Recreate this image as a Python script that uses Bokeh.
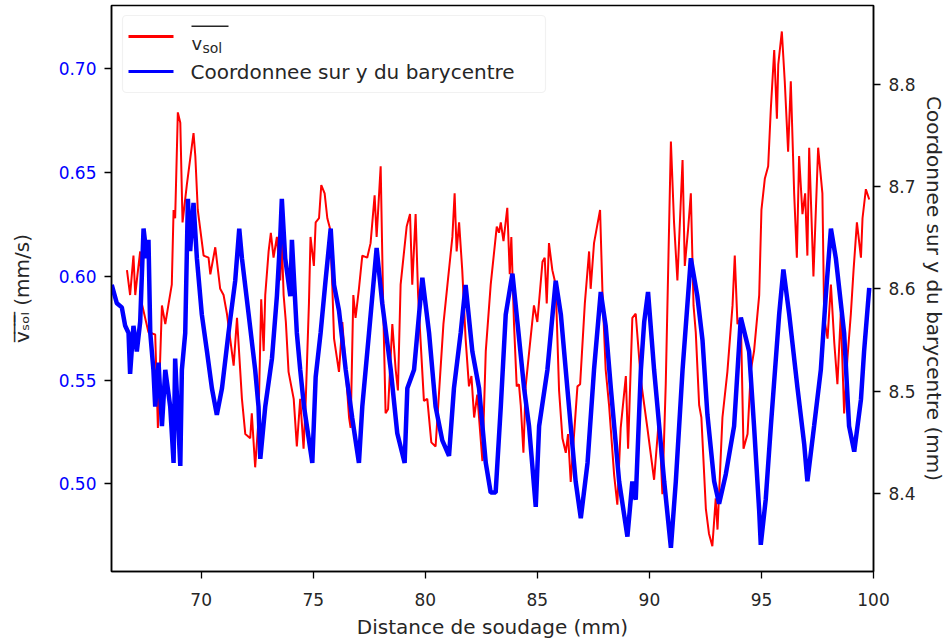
from bokeh.plotting import figure
from bokeh.models import Range1d, LinearAxis, FixedTicker, Label, BoxAnnotation
from bokeh.embed import file_html
from bokeh.resources import INLINE

# ---------------- data ----------------
red_x = [66.69, 66.83, 66.98, 67.06, 67.16, 67.28, 67.35, 67.65, 67.95, 68.07, 68.25, 68.40, 68.55, 68.69,
         68.77, 68.84, 68.96, 69.07, 69.17, 69.36, 69.66, 69.74, 69.85, 70.11, 70.33, 70.41, 70.63, 70.85,
         71.00, 71.15, 71.45, 71.60, 71.82, 71.97, 72.19, 72.26, 72.41, 72.56, 72.68, 72.79, 72.86, 73.01,
         73.11, 73.23, 73.38, 73.53, 73.60, 73.68, 73.78, 73.90, 74.13, 74.27, 74.42, 74.57, 74.66, 74.81,
         74.88, 75.03, 75.11, 75.26, 75.36, 75.51, 75.63, 75.75, 75.85, 75.93, 76.15, 76.30, 76.45, 76.60,
         76.67, 76.79, 76.89, 77.04, 77.19, 77.41, 77.56, 77.74, 77.83, 78.01, 78.13, 78.23, 78.34, 78.53,
         78.68, 78.78, 78.90, 79.17, 79.32, 79.42, 79.57, 79.68, 79.77, 79.94, 80.09, 80.27, 80.46, 80.81,
         80.99, 81.21, 81.31, 81.40, 81.51, 81.65, 81.80, 81.95, 82.06, 82.18, 82.32, 82.55, 82.70, 82.92,
         83.19, 83.29, 83.37, 83.49, 83.66, 83.77, 83.84, 83.96, 84.08, 84.18, 84.26, 84.38, 84.48, 84.63,
         84.85, 85.00, 85.23, 85.33, 85.42, 85.52, 85.67, 85.82, 85.97, 86.12, 86.27, 86.37, 86.49, 86.79,
         86.91, 87.12, 87.31, 87.38, 87.53, 87.80, 87.91, 88.05, 88.20, 88.43, 88.57, 88.72, 88.95, 89.05,
         89.24, 89.39, 89.62, 89.91, 90.21, 90.43, 90.58, 90.73, 90.96, 91.10, 91.25, 91.48, 91.58, 91.73,
         91.85, 91.97, 92.07, 92.22, 92.32, 92.52, 92.66, 92.81, 92.96, 93.04, 93.26, 93.48, 93.71, 93.81,
         93.93, 94.08, 94.20, 94.38, 94.53, 94.67, 94.90, 95.00, 95.15, 95.30, 95.42, 95.57, 95.69, 95.75,
         95.91, 96.04, 96.19, 96.31, 96.46, 96.58, 96.68, 96.83, 96.95, 97.05, 97.13, 97.32, 97.53, 97.72,
         97.80, 97.95, 98.10, 98.25, 98.39, 98.54, 98.69, 98.84, 98.99, 99.11, 99.26, 99.44, 99.51, 99.66,
         99.81]
red_v = [0.603, 0.591, 0.610, 0.591, 0.601, 0.612, 0.587, 0.573, 0.572, 0.527, 0.586, 0.577, 0.587, 0.596,
         0.632, 0.628, 0.679, 0.674, 0.626, 0.644, 0.669, 0.658, 0.632, 0.610, 0.609, 0.601, 0.614, 0.594,
         0.591, 0.582, 0.557, 0.580, 0.541, 0.524, 0.522, 0.534, 0.508, 0.531, 0.589, 0.564, 0.591, 0.612,
         0.621, 0.609, 0.619, 0.598, 0.617, 0.591, 0.578, 0.554, 0.541, 0.518, 0.541, 0.517, 0.538, 0.587,
         0.619, 0.605, 0.626, 0.628, 0.644, 0.640, 0.628, 0.623, 0.596, 0.570, 0.554, 0.578, 0.555, 0.532,
         0.527, 0.591, 0.580, 0.594, 0.610, 0.609, 0.616, 0.639, 0.619, 0.653, 0.582, 0.534, 0.536, 0.577,
         0.555, 0.545, 0.596, 0.624, 0.630, 0.596, 0.630, 0.591, 0.573, 0.540, 0.541, 0.520, 0.518, 0.577,
         0.596, 0.619, 0.640, 0.612, 0.626, 0.603, 0.570, 0.547, 0.552, 0.532, 0.543, 0.511, 0.564, 0.596,
         0.624, 0.621, 0.626, 0.617, 0.633, 0.601, 0.619, 0.577, 0.547, 0.548, 0.538, 0.515, 0.547, 0.563,
         0.586, 0.578, 0.607, 0.609, 0.587, 0.616, 0.603, 0.596, 0.545, 0.522, 0.515, 0.524, 0.501, 0.547,
         0.548, 0.587, 0.612, 0.594, 0.616, 0.632, 0.591, 0.555, 0.538, 0.504, 0.490, 0.527, 0.552, 0.517,
         0.580, 0.582, 0.550, 0.527, 0.502, 0.532, 0.495, 0.548, 0.665, 0.626, 0.598, 0.656, 0.605, 0.623,
         0.640, 0.586, 0.573, 0.538, 0.532, 0.488, 0.476, 0.470, 0.493, 0.478, 0.532, 0.554, 0.586, 0.610,
         0.577, 0.580, 0.517, 0.524, 0.555, 0.564, 0.591, 0.632, 0.647, 0.653, 0.681, 0.709, 0.676, 0.702,
         0.718, 0.694, 0.660, 0.694, 0.640, 0.609, 0.658, 0.630, 0.640, 0.610, 0.662, 0.600, 0.662, 0.640,
         0.580, 0.570, 0.596, 0.568, 0.548, 0.582, 0.534, 0.561, 0.582, 0.603, 0.626, 0.609, 0.628, 0.642,
         0.637]

blue_x = [66.01, 66.24, 66.46, 66.61, 66.76, 66.83, 66.98, 67.13, 67.28, 67.43, 67.58, 67.65, 67.73, 67.87,
          67.95, 68.10, 68.25, 68.40, 68.62, 68.77, 68.84, 69.07, 69.14, 69.29, 69.41, 69.51, 69.66, 69.81,
          70.03, 70.26, 70.48, 70.70, 70.93, 71.22, 71.52, 71.70, 71.82, 72.12, 72.41, 72.56, 72.64, 72.86,
          73.16, 73.38, 73.53, 73.60, 73.75, 73.98, 74.05, 74.27, 74.42, 74.59, 74.96, 75.11, 75.33, 75.55,
          75.78, 75.93, 76.15, 76.45, 76.74, 77.04, 77.19, 77.49, 77.83, 78.08, 78.46, 78.75, 79.08, 79.20,
          79.50, 79.87, 80.17, 80.46, 80.76, 81.06, 81.28, 81.58, 81.80, 82.10, 82.40, 82.70, 82.92, 83.14,
          83.37, 83.59, 83.89, 84.11, 84.41, 84.63, 84.93, 85.08, 85.45, 85.82, 86.05, 86.34, 86.71, 86.94,
          87.24, 87.53, 87.83, 88.05, 88.28, 88.65, 89.02, 89.24, 89.39, 89.62, 89.77, 89.94, 90.21, 90.36,
          90.66, 90.96, 91.18, 91.48, 91.85, 92.14, 92.37, 92.59, 92.89, 93.11, 93.41, 93.78, 94.08, 94.45,
          94.67, 94.90, 94.97, 95.19, 95.42, 95.79, 95.98, 96.24, 96.61, 96.91, 97.05, 97.35, 97.65, 97.87,
          98.10, 98.32, 98.69, 98.91, 99.14, 99.44, 99.58, 99.81]
blue_y = [8.604, 8.586, 8.582, 8.564, 8.557, 8.517, 8.564, 8.539, 8.568, 8.659, 8.630, 8.648, 8.557, 8.521,
          8.485, 8.528, 8.466, 8.521, 8.485, 8.430, 8.532, 8.427, 8.521, 8.557, 8.688, 8.637, 8.684, 8.630,
          8.575, 8.539, 8.503, 8.477, 8.503, 8.557, 8.608, 8.659, 8.630, 8.575, 8.521, 8.485, 8.434, 8.485,
          8.532, 8.593, 8.651, 8.688, 8.630, 8.593, 8.648, 8.557, 8.521, 8.485, 8.430, 8.514, 8.557, 8.608,
          8.659, 8.604, 8.579, 8.521, 8.474, 8.430, 8.485, 8.557, 8.640, 8.586, 8.521, 8.459, 8.430, 8.503,
          8.521, 8.611, 8.557, 8.485, 8.452, 8.437, 8.503, 8.557, 8.604, 8.539, 8.503, 8.430, 8.401, 8.401,
          8.485, 8.575, 8.615, 8.568, 8.503, 8.466, 8.387, 8.466, 8.521, 8.608, 8.575, 8.503, 8.412, 8.376,
          8.430, 8.521, 8.597, 8.564, 8.503, 8.412, 8.358, 8.412, 8.394, 8.521, 8.568, 8.597, 8.521, 8.485,
          8.412, 8.347, 8.412, 8.521, 8.630, 8.593, 8.550, 8.477, 8.412, 8.390, 8.419, 8.466, 8.572, 8.539,
          8.466, 8.383, 8.350, 8.394, 8.466, 8.575, 8.619, 8.575, 8.503, 8.448, 8.412, 8.466, 8.521, 8.593,
          8.659, 8.630, 8.557, 8.466, 8.441, 8.492, 8.539, 8.601]

x_ticks = [70, 75, 80, 85, 90, 95, 100]
left_ticks = [0.50, 0.55, 0.60, 0.65, 0.70]
left_tick_labels = ["0.50", "0.55", "0.60", "0.65", "0.70"]
right_ticks = [8.4, 8.5, 8.6, 8.7, 8.8]
right_tick_labels = ["8.4", "8.5", "8.6", "8.7", "8.8"]
x_label = "Distance de soudage (mm)"
right_label = "Coordonnee sur y du barycentre (mm)"
left_label = "v\u0305\u209b\u0305\u2092\u0305\u2097\u0305 (mm/s)"
red_name = ("v", "sol")
blue_name = "Coordonnee sur y du barycentre"

# ---------------- figure ----------------
FONT = "DejaVu Sans"
TXT = "#262626"
W, H = 950, 641
BL, BT = 111, 5
BR = W - 873
BB = H - 573
FH = H - BT - BB

p = figure(width=W, height=H, x_range=Range1d(66, 100), y_range=Range1d(0.4578, 0.7305),
           output_backend="svg", toolbar_location=None,
           min_border_left=BL, min_border_right=BR, min_border_top=BT, min_border_bottom=BB)
p.extra_y_ranges = {"bary": Range1d(8.3239, 8.877)}
p.xgrid.grid_line_color = None
p.ygrid.grid_line_color = None
p.outline_line_color = "black"
p.outline_line_width = 1.5
p.background_fill_color = "white"
p.border_fill_color = "white"

def style(ax, color, standoff):
    ax.axis_line_color = "black"
    ax.axis_line_width = 1.5
    ax.major_tick_out = 7
    ax.major_tick_in = 0
    ax.major_tick_line_width = 1.3
    ax.minor_tick_line_color = None
    ax.major_label_text_font = FONT
    ax.major_label_text_font_size = "17px"
    ax.major_label_text_color = color
    ax.major_label_standoff = standoff
    ax.axis_label_text_font = FONT
    ax.axis_label_text_font_size = "20px"
    ax.axis_label_text_font_style = "normal"
    ax.axis_label_text_color = TXT

xa = p.xaxis[0]
style(xa, TXT, 14)
xa.ticker = FixedTicker(ticks=x_ticks)
xa.axis_label = x_label
xa.axis_label_standoff = 6

ya = p.yaxis[0]
style(ya, "#0000ff", 8)
ya.ticker = FixedTicker(ticks=left_ticks)
ya.major_label_overrides = {t: s for t, s in zip(left_ticks, left_tick_labels)}
ya.axis_label = left_label
ya.axis_label_standoff = 22

ra = LinearAxis(y_range_name="bary")
style(ra, TXT, 8)
ra.ticker = FixedTicker(ticks=right_ticks)
ra.major_label_overrides = {t: s for t, s in zip(right_ticks, right_tick_labels)}
ra.axis_label = right_label
ra.axis_label_standoff = 3
p.add_layout(ra, "right")

p.line(red_x, red_v, line_color="#ff0000", line_width=2)
p.line(blue_x, blue_y, line_color="#0000ff", line_width=4.5, y_range_name="bary")

# ---------------- legend (built by hand for the overline / subscript) ----------------
def sbox(l, r, b, t, **kw):
    return BoxAnnotation(left=l, right=r, bottom=b, top=t, left_units="screen", right_units="screen",
                         bottom_units="screen", top_units="screen", **kw)

p.add_layout(sbox(11, 434, FH - 89, FH - 12, fill_color="white", fill_alpha=0.85,
                  line_color="#d0d0d0", line_width=1.2, border_radius=4))
row1 = FH - 33
row2 = FH - 68
p.add_layout(sbox(17, 62, row1 - 1.5, row1 + 1.5, fill_color="#ff0000", fill_alpha=1, line_color=None))
p.add_layout(sbox(17, 62, row2 - 1.5, row2 + 1.5, fill_color="#0000ff", fill_alpha=1, line_color=None))
p.add_layout(Label(x=80, y=row1 - 7, x_units="screen", y_units="screen", text=red_name[0],
                   text_font=FONT, text_font_size="18px", text_color=TXT, text_baseline="alphabetic"))
p.add_layout(Label(x=91, y=row1 - 11, x_units="screen", y_units="screen", text=red_name[1],
                   text_font=FONT, text_font_size="14px", text_color=TXT, text_baseline="alphabetic"))
p.add_layout(sbox(80, 117, row1 + 9.5, row1 + 11, fill_color=TXT, fill_alpha=1, line_color=None))
p.add_layout(Label(x=79, y=row2, x_units="screen", y_units="screen", text=blue_name,
                   text_font=FONT, text_font_size="20px", text_color=TXT, text_baseline="middle"))

open("out.html", "w").write(file_html(p, INLINE))
